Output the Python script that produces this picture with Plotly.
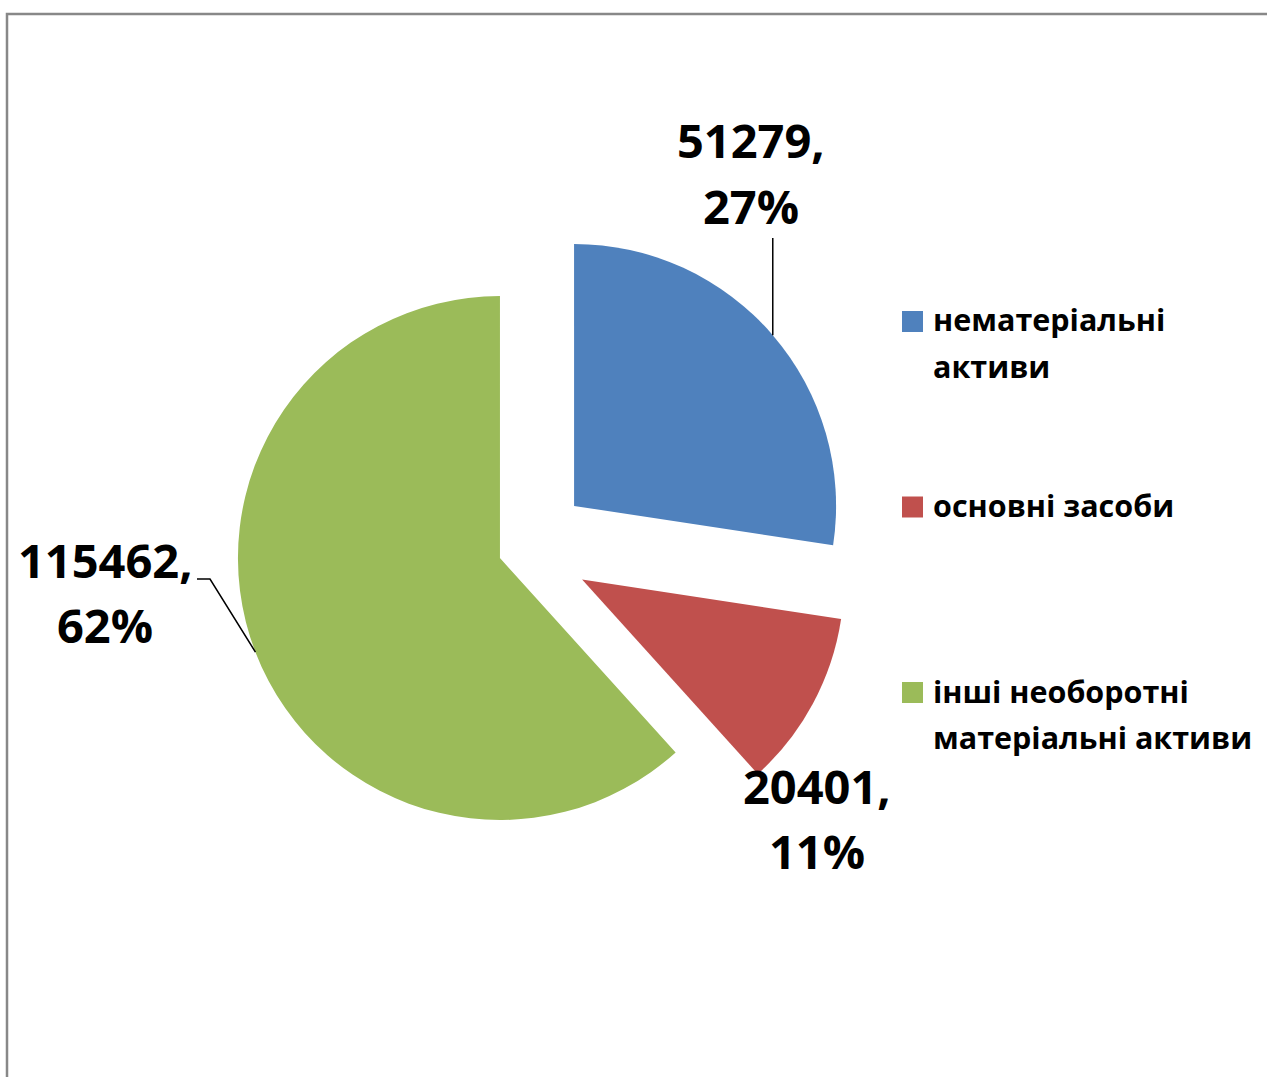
import math
import textwrap
import plotly.graph_objects as go

# Non-current assets structure
categories = ["нематеріальні активи", "основні засоби", "інші необоротні матеріальні активи"]
values = [51279, 20401, 115462]
colors = ["#4F81BD", "#C0504D", "#9BBB59"]
pulls = [0.25, 0.25, 0.10]

W, H = 1267, 1077
FONT = "Open Sans"

# Pie placement in pixels (centre and radius of the un-pulled pie)
CX, CY, R = 524.4, 548.6, 262.0
box = R * (1 + max(pulls))


def px(x):
    return x / W


def py(y):
    return 1 - y / H


total = sum(values)
pcts = [round(v / total * 100) for v in values]

fig = go.Figure(
    go.Pie(
        labels=categories,
        values=values,
        marker=dict(colors=colors, line=dict(width=0)),
        pull=pulls,
        sort=False,
        direction="clockwise",
        rotation=0,
        textinfo="none",
        hoverinfo="label+value+percent",
        showlegend=False,
        domain=dict(
            x=[px(CX - box), px(CX + box)],
            y=[py(CY + box), py(CY - box)],
        ),
    )
)

# Mid-angle arc points of each slice (clockwise from 12 o'clock)
arc_pts = []
acc = 0.0
for v, p in zip(values, pulls):
    mid = (acc + v / 2) / total * 2 * math.pi
    acc += v
    d = R * (1 + p)
    arc_pts.append((CX + d * math.sin(mid), CY - d * math.cos(mid)))

shapes = []
annotations = []

# Outer chart-area frame
shapes.append(dict(type="rect", xref="paper", yref="paper",
                   x0=px(7), x1=px(W + 20), y0=py(H + 20), y1=py(14),
                   line=dict(color="#888888", width=2.5), fillcolor="rgba(0,0,0,0)"))

# Data labels: "value," on the first line, "percent%" on the second
LABEL_GAP = 65
label_pos = [(751, 140.5), (816.5, 786), (105, 560)]
for (lx, ly), v, pc in zip(label_pos, values, pcts):
    for k, line in enumerate([f"{v},", f"{pc}%"]):
        annotations.append(dict(
            x=px(lx), y=py(ly + k * LABEL_GAP), xref="paper", yref="paper",
            text=f"<b>{line}</b>", showarrow=False,
            xanchor="center", yanchor="middle", align="center",
            font=dict(family=FONT, size=47, color="#000000"),
        ))

# Leader lines
bx, by = arc_pts[0]
shapes.append(dict(type="line", xref="paper", yref="paper",
                   x0=px(bx), x1=px(bx), y0=py(238), y1=py(by),
                   line=dict(color="#000000", width=1.5)))
gx, gy = arc_pts[2]
shapes.append(dict(type="path", xref="paper", yref="paper",
                   path=f"M {px(197)},{py(579)} L {px(210)},{py(579)} L {px(gx)},{py(gy)}",
                   line=dict(color="#000000", width=1.5)))

# Legend
LEG_X, LEG_Y0, LEG_STEP, SQ, LINE_GAP = 902, 321.5, 185.5, 21, 46
for i, (name, col) in enumerate(zip(categories, colors)):
    yc = LEG_Y0 + i * LEG_STEP
    shapes.append(dict(type="rect", xref="paper", yref="paper",
                       x0=px(LEG_X), x1=px(LEG_X + SQ), y0=py(yc + SQ / 2), y1=py(yc - SQ / 2),
                       line=dict(width=0), fillcolor=col))
    for k, line in enumerate(textwrap.wrap(name, 18)):
        annotations.append(dict(
            x=px(931), y=py(yc - 2 + k * LINE_GAP), xref="paper", yref="paper",
            text=f"<b>{line}</b>",
            showarrow=False, xanchor="left", yanchor="middle", align="left",
            font=dict(family=FONT, size=30.5, color="#000000"),
        ))

fig.update_layout(
    width=W, height=H,
    margin=dict(l=0, r=0, t=0, b=0),
    paper_bgcolor="#FFFFFF",
    plot_bgcolor="#FFFFFF",
    shapes=shapes,
    annotations=annotations,
)

fig.write_html("out.html")
